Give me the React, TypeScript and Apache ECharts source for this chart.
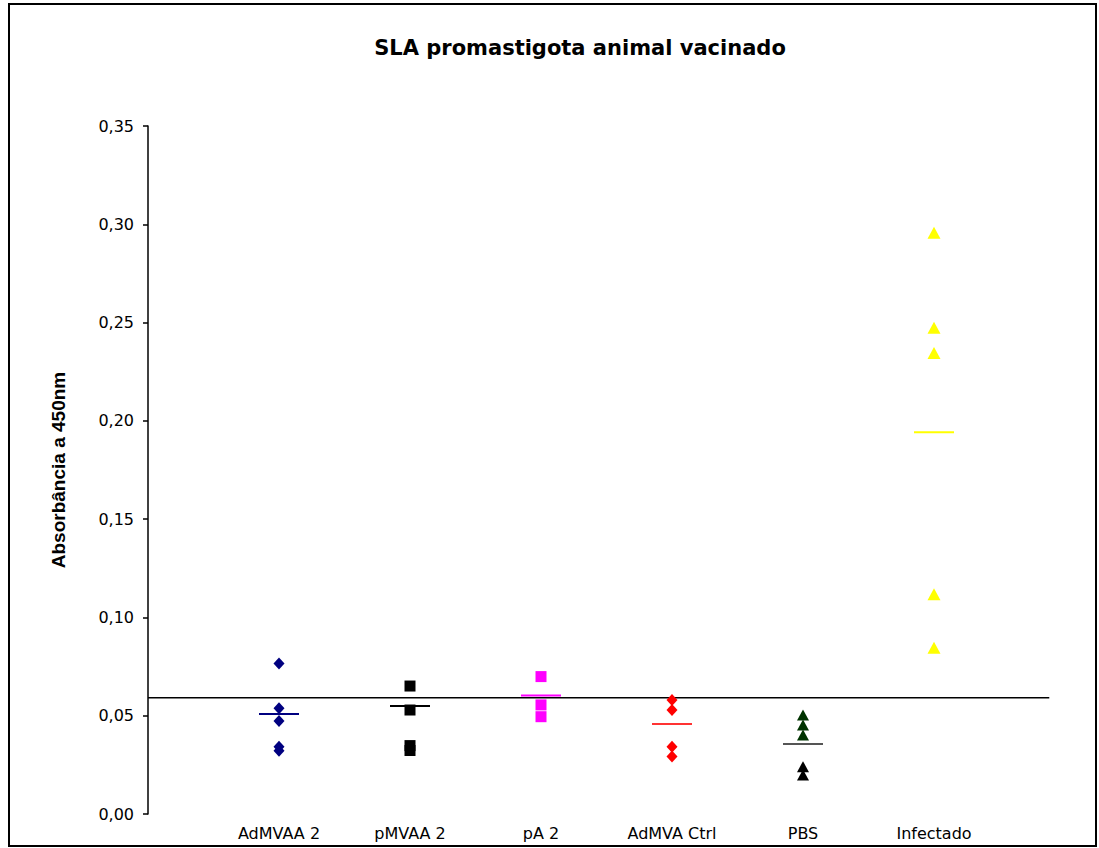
import React, { useEffect, useRef } from "react";
import * as echarts from "echarts";

const categories = ["AdMVAA 2", "pMVAA 2", "pA 2", "AdMVA Ctrl", "PBS", "Infectado"];
const yTicks = [0, 0.05, 0.1, 0.15, 0.2, 0.25, 0.3, 0.35];

const admvaa2 = [0.0766, 0.0538, 0.0473, 0.0342, 0.0322];
const pmvaa2 = [0.0651, 0.0529, 0.0348, 0.0323];
const pa2 = [0.0699, 0.0555, 0.0495];
const admvaCtrl = [0.058, 0.0529, 0.0342, 0.0292];
const pbsGreen = [0.0504, 0.0453, 0.0402];
const pbsBlack = [0.0241, 0.0198];
const infectado = [0.2957, 0.2474, 0.2345, 0.1118, 0.0846];
const groupMeans = [0.0509, 0.0549, 0.0603, 0.0458, 0.0356, 0.1942];
const meanColors = ["#000080", "#000000", "#ff00ff", "#ff3333", "#555555", "#ffff00"];
const cutoff = 0.0592;
const cutoffEnd = 6.88;

const toPts = (vals: number[], idx: number) => vals.map((v) => [idx, v]);

export default function App() {
  const ref = useRef<HTMLDivElement>(null);
  useEffect(() => {
    if (!ref.current) return;
    const chart = echarts.init(ref.current, null, { renderer: "svg" });
    const font = "DejaVu Sans";
    const pt = (color: string) => ({ color, opacity: 1 });
    chart.setOption({
      animation: false,
      backgroundColor: "#ffffff",
      title: {
        text: "SLA promastigota animal vacinado",
        left: 567,
        top: 29,
        textAlign: "center",
        textStyle: { fontFamily: font, fontSize: 21, fontWeight: "bold", color: "#000" },
      },
      graphic: [
        {
          type: "rect",
          shape: { x: 1, y: 1, width: 1087, height: 842 },
          style: { fill: "none", stroke: "#000", lineWidth: 2 },
          silent: true,
        },
      ],
      grid: { left: 140, right: 32, top: 123, bottom: 34 },
      xAxis: {
        type: "value",
        min: 0,
        max: 7,
        interval: 1,
        axisLine: { show: false },
        axisTick: { show: false },
        splitLine: { show: false },
        axisLabel: {
          margin: 11,
          fontFamily: font,
          fontSize: 16,
          color: "#000",
          formatter: (v: number) => (v >= 1 && v <= categories.length ? categories[v - 1] : ""),
        },
      },
      yAxis: {
        type: "value",
        min: yTicks[0],
        max: yTicks[yTicks.length - 1],
        interval: 0.05,
        name: "Absorbância a 450nm",
        nameLocation: "middle",
        nameGap: 80,
        nameRotate: 90,
        nameTextStyle: { fontFamily: "Liberation Sans", fontSize: 19, fontWeight: "bold", color: "#000" },
        axisLine: { show: true, lineStyle: { color: "#000", width: 1.5 } },
        axisTick: { show: true, inside: false, length: 5, lineStyle: { color: "#000", width: 1.5 } },
        splitLine: { show: false },
        axisLabel: {
          margin: 14,
          fontFamily: font,
          fontSize: 16,
          color: "#000",
          formatter: (v: number) => v.toFixed(2).replace(".", ","),
        },
      },
      series: [
        {
          type: "line",
          data: [[0, cutoff], [cutoffEnd, cutoff]],
          symbol: "none",
          lineStyle: { color: "#000", width: 1.5 },
          z: 1,
        },
        { type: "scatter", data: toPts(admvaa2, 1), symbol: "diamond", symbolSize: [11, 12], itemStyle: pt("#000080"), z: 2 },
        { type: "scatter", data: toPts(pmvaa2, 2), symbol: "rect", symbolSize: [11, 11], itemStyle: pt("#000000"), z: 2 },
        { type: "scatter", data: toPts(pa2, 3), symbol: "rect", symbolSize: [11, 11], itemStyle: pt("#ff00ff"), z: 2 },
        { type: "scatter", data: toPts(admvaCtrl, 4), symbol: "diamond", symbolSize: [11, 12], itemStyle: pt("#ff0000"), z: 2 },
        { type: "scatter", data: toPts(pbsGreen, 5), symbol: "triangle", symbolSize: [12, 11], itemStyle: pt("#003300"), z: 2 },
        { type: "scatter", data: toPts(pbsBlack, 5), symbol: "triangle", symbolSize: [12, 11], itemStyle: pt("#000000"), z: 2 },
        { type: "scatter", data: toPts(infectado, 6), symbol: "triangle", symbolSize: [13, 12], itemStyle: pt("#ffff00"), z: 2 },
        {
          type: "scatter",
          symbol: "rect",
          symbolSize: [40, 2],
          z: 3,
          data: groupMeans.map((m, i) => ({ value: [i + 1, m], itemStyle: { color: meanColors[i], opacity: 1 } })),
        },
      ],
    });
    return () => chart.dispose();
  }, []);
  return (
    <div
      ref={ref}
      style={{ position: "absolute", left: 8, top: 3, width: 1089, height: 845 }}
    />
  );
}
